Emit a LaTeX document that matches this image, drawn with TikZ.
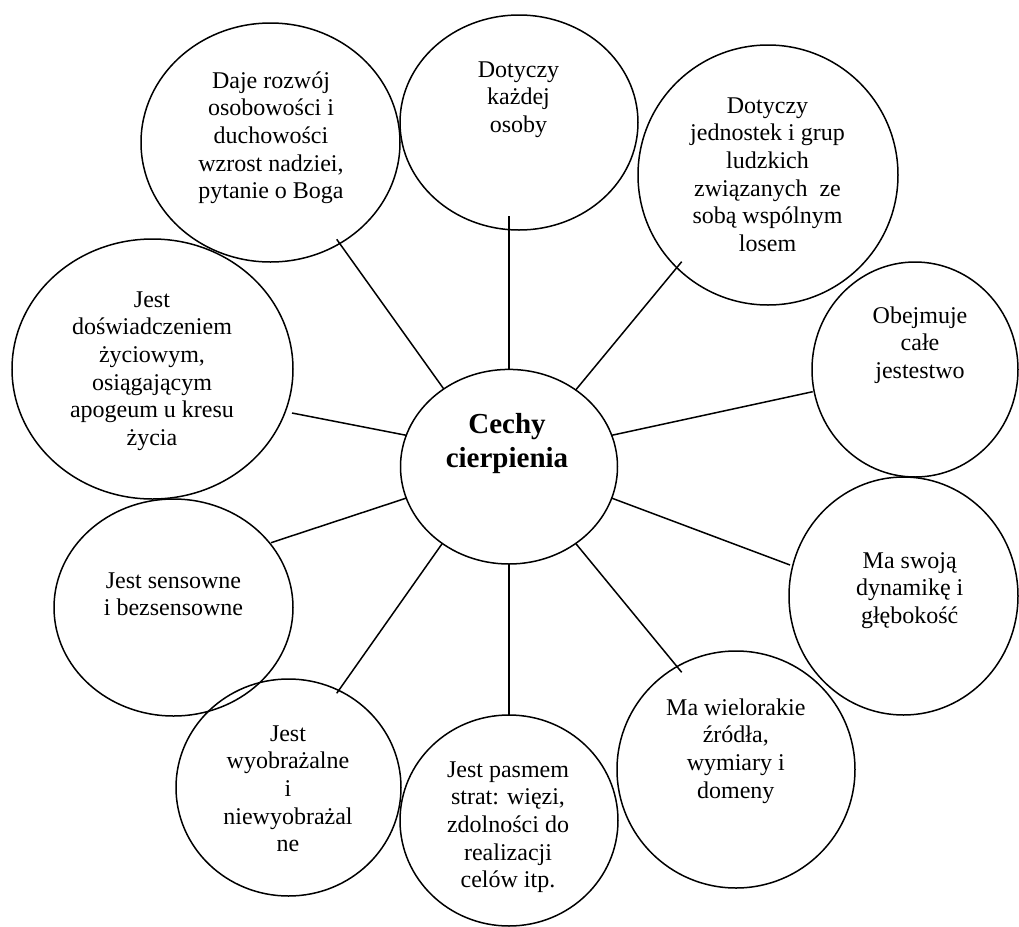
\documentclass[tikz,border=0pt]{standalone}
\usepackage{fontspec}
\setmainfont{Liberation Serif}
\usetikzlibrary{shapes.geometric,calc}
\begin{document}
\begin{tikzpicture}[x=0.5pt,y=-0.5pt,
  ell/.style={draw, ellipse, line width=0.75pt, inner sep=0pt, outer sep=0pt},
  txt/.style={align=center, anchor=base, inner sep=0pt, font=\fontsize{12}{13.85}\selectfont},
  link/.style={line width=0.75pt}]
\useasboundingbox (0,0) rectangle (1019,927);

% ellipses
\node[ell, minimum width=129.5pt, minimum height=119.5pt] (daje)   at (270.5,142.5) {};
\node[ell, minimum width=119pt,   minimum height=107.5pt] (kazdej) at (519,122.5) {};
\node[ell, minimum width=130pt,   minimum height=130pt]   (jedn)   at (768,175) {};
\node[ell, minimum width=103pt,   minimum height=107.5pt] (obej)   at (915,369.5) {};
\node[ell, minimum width=114.5pt, minimum height=119pt]   (dyn)    at (903.5,596) {};
\node[ell, minimum width=119pt,   minimum height=118.5pt] (wiel)   at (736,769.5) {};
\node[ell, minimum width=109pt,   minimum height=105.5pt] (pasm)   at (509,820.5) {};
\node[ell, minimum width=112.5pt, minimum height=108.5pt] (wyob)   at (288.5,787.5) {};
\node[ell, minimum width=119.5pt, minimum height=108.5pt] (sens)   at (173.5,607.5) {};
\node[ell, minimum width=140.5pt, minimum height=130pt]   (dosw)   at (152.5,369) {};
\node[ell, minimum width=108.5pt, minimum height=97.3pt]  (cen)    at (509,466.7) {};

% texts (anchor base = baseline of the last line)
\node[txt] (daje-t)   at (271,198.8)   {Daje rozwój\\osobowości i\\duchowości\\wzrost nadziei,\\pytanie o Boga};
\node[txt] (kazdej-t) at (518.5,132.5) {Dotyczy\\każdej\\osoby};
\node[txt] (jedn-t)   at (767.5,251.5) {Dotyczy\\jednostek i grup\\ludzkich\\związanych\ \ ze\\sobą wspólnym\\losem};
\node[txt] (obej-t)   at (920,378.4)   {Obejmuje\\całe\\jestestwo};
\node[txt] (dyn-t)    at (909.7,623.4) {Ma swoją\\dynamikę i\\głębokość};
\node[txt] (wiel-t)   at (735.8,798.1) {Ma wielorakie\\źródła,\\wymiary i\\domeny};
\node[txt] (pasm-t)   at (508,887.8)   {Jest pasmem\\strat: więzi,\\zdolności do\\realizacji\\celów itp.};
\node[txt] (wyob-t)   at (288,851.8)   {Jest\\wyobrażalne\\i\\niewyobrażal\\ne};
\node[txt] (sens-t)   at (173.5,615.7) {Jest sensowne\\i bezsensowne};
\node[txt] (dosw-t)   at (152,445.5)   {Jest\\doświadczeniem\\życiowym,\\osiągającym\\apogeum u kresu\\życia};
\node[txt, font=\fontsize{14.5}{17}\selectfont\bfseries] (cen-t) at (507,467) {Cechy\hspace{8pt}\\cierpienia};

% connectors
\draw[link] (cen.130.6) -- ($(daje.center)+(66.2,96.8)$);
\draw[link] (cen.163)   -- ($(dosw.center)+(139.5,44)$);
\draw[link] (cen.90)    -- ($(kazdej.center)+(-10,93.5)$);
\draw[link] (cen.49.4)  -- ($(jedn.center)+(-86.3,86.7)$);
\draw[link] (cen.17)    -- ($(obej.center)+(-102.3,22.2)$);
\draw[link] (cen.197)   -- ($(sens.center)+(97.5,-64.8)$);
\draw[link] (cen.229.2) -- ($(wyob.center)+(48.2,-94.2)$);
\draw[link] (cen.270)   -- ($(pasm.center)+(0,-104.5)$);
\draw[link] (cen.-17)   -- ($(dyn.center)+(-113.5,-31)$);
\draw[link] (cen.-49.2) -- ($(wiel.center)+(-54.3,-97.2)$);
\end{tikzpicture}
\end{document}
